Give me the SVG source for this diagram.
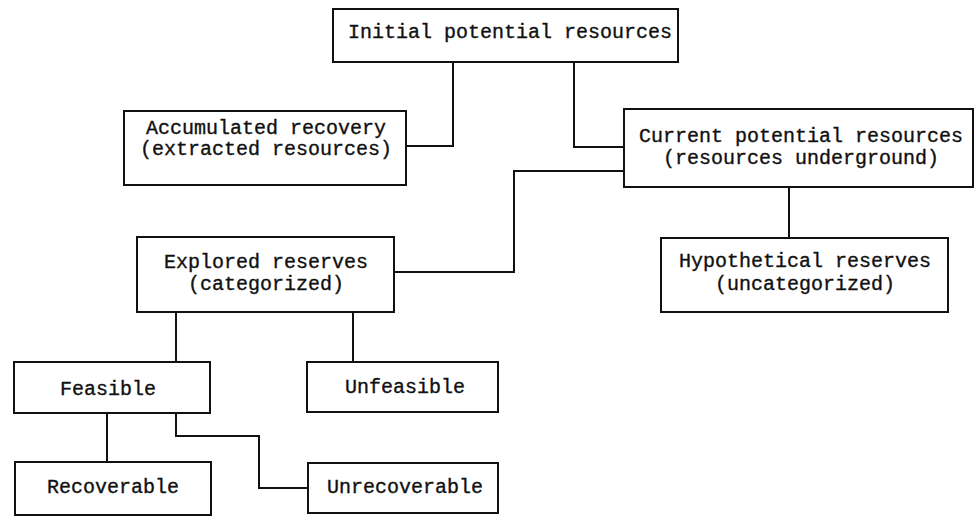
<svg xmlns="http://www.w3.org/2000/svg" width="979" height="524" viewBox="0 0 979 524">
<style>
.box{fill:#fff;stroke:#111;stroke-width:2}
.t{font-family:"Liberation Mono","DejaVu Sans Mono",monospace;font-size:20px;fill:#111;stroke:#111;stroke-width:0.35;text-anchor:middle}
.c{fill:none;stroke:#111;stroke-width:2}
</style>
<rect width="979" height="524" fill="#fff"/>
<g id="connectors">
<path class="c" d="M453 62 V146 H406"/>
<path class="c" d="M574 62 V147 H624"/>
<path class="c" d="M624 171 H514 V272 H394"/>
<path class="c" d="M789 187 V238"/>
<path class="c" d="M176 312 V362"/>
<path class="c" d="M353 312 V362"/>
<path class="c" d="M107 413 V462"/>
<path class="c" d="M176 413 V436 H259 V488 H308"/>
</g>
<g id="initial">
<rect class="box" x="333" y="9" width="345" height="53"/>
<text class="t" x="510" y="38">Initial potential resources</text>
</g>
<g id="accumulated">
<rect class="box" x="124" y="111" width="282" height="74"/>
<text class="t" x="266" y="134">Accumulated recovery</text>
<text class="t" x="266" y="155">(extracted resources)</text>
</g>
<g id="current">
<rect class="box" x="624" y="109" width="349" height="78"/>
<text class="t" x="801" y="142">Current potential resources</text>
<text class="t" x="801" y="164">(resources underground)</text>
</g>
<g id="explored">
<rect class="box" x="137" y="237" width="257" height="75"/>
<text class="t" x="266" y="268">Explored reserves</text>
<text class="t" x="266" y="290">(categorized)</text>
</g>
<g id="hypothetical">
<rect class="box" x="661" y="238" width="287" height="74"/>
<text class="t" x="805" y="267">Hypothetical reserves</text>
<text class="t" x="805" y="290">(uncategorized)</text>
</g>
<g id="feasible">
<rect class="box" x="14" y="362" width="196" height="51"/>
<text class="t" x="108" y="395">Feasible</text>
</g>
<g id="unfeasible">
<rect class="box" x="307" y="362" width="191" height="50"/>
<text class="t" x="405" y="393">Unfeasible</text>
</g>
<g id="recoverable">
<rect class="box" x="15" y="462" width="196" height="53"/>
<text class="t" x="113" y="493">Recoverable</text>
</g>
<g id="unrecoverable">
<rect class="box" x="308" y="463" width="190" height="50"/>
<text class="t" x="405" y="493">Unrecoverable</text>
</g>
</svg>
